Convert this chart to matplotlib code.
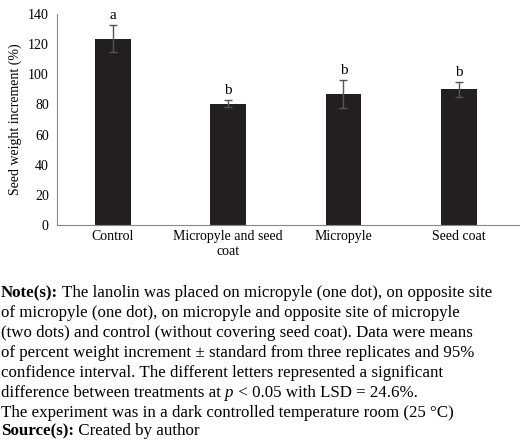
import matplotlib
matplotlib.use("Agg")
import matplotlib.pyplot as plt

categories = ["Control", "Micropyle and seed\ncoat", "Micropyle", "Seed coat"]
values = [123.5, 80.5, 87.0, 90.0]
errors = [9.0, 2.5, 9.5, 5.0]
letters = ["a", "b", "b", "b"]
yticks = [0, 20, 40, 60, 80, 100, 120, 140]

plt.rcParams['font.family'] = ['Liberation Serif', 'DejaVu Serif']
fig = plt.figure(figsize=(5.2, 4.4), dpi=100)
ax = fig.add_axes([0.11, 0.489, 0.888, 0.479])
x = range(len(categories))
ax.bar(x, values, width=0.31, color="#231f20", yerr=errors,
       error_kw=dict(ecolor="#555555", elinewidth=1, capsize=3))
for i, (v, e, l) in enumerate(zip(values, errors, letters)):
    ax.text(i, v + e + 2, l, ha="center", va="bottom", fontsize=11)
ax.set_ylim(0, 140)
ax.set_xlim(-0.48, 3.52)
ax.set_yticks(yticks)
ax.set_xticks(list(x))
ax.set_xticklabels(categories, fontsize=10)
ax.tick_params(axis='y', labelsize=10, length=0, pad=6)
ax.tick_params(axis='x', length=0)
ax.set_ylabel("Seed weight increment (%)", fontsize=10)
for s in ["top", "right"]:
    ax.spines[s].set_visible(False)
ax.spines["left"].set_color("#888888")
ax.spines["bottom"].set_color("#888888")

fs = 12.2
lx = 0.002
ys = [293, 313, 333, 353, 373, 393, 413, 431]
def fy(p):
    return 1 - (p + 4) / 440

t = fig.text(lx, fy(ys[0]), "Note(s):", fontsize=fs, weight="bold", va="baseline")
ax.annotate(" The lanolin was placed on micropyle (one dot), on opposite site",
            xy=(1, 0), xycoords=t, fontsize=fs, va="bottom", annotation_clip=False)
lines = [
    "of micropyle (one dot), on micropyle and opposite site of micropyle",
    "(two dots) and control (without covering seed coat). Data were means",
    "of percent weight increment \u00b1 standard from three replicates and 95%",
    "confidence interval. The different letters represented a significant",
]
for yy, s in zip(ys[1:5], lines):
    fig.text(lx, fy(yy), s, fontsize=fs, va="baseline")
t2 = fig.text(lx, fy(ys[5]), "difference between treatments at ", fontsize=fs, va="baseline")
t3 = ax.annotate("p", xy=(1, 0), xycoords=t2, fontsize=fs, style="italic", va="bottom", annotation_clip=False)
ax.annotate(" < 0.05 with LSD = 24.6%.", xy=(1, 0), xycoords=t3, fontsize=fs, va="bottom", annotation_clip=False)
fig.text(lx, fy(ys[6]), "The experiment was in a dark controlled temperature room (25 \u00b0C)", fontsize=fs, va="baseline")
t4 = fig.text(lx, fy(ys[7]), "Source(s):", fontsize=fs, weight="bold", va="baseline")
ax.annotate(" Created by author", xy=(1, 0), xycoords=t4, fontsize=fs, va="bottom", annotation_clip=False)

fig.savefig("out.png", dpi=100)
